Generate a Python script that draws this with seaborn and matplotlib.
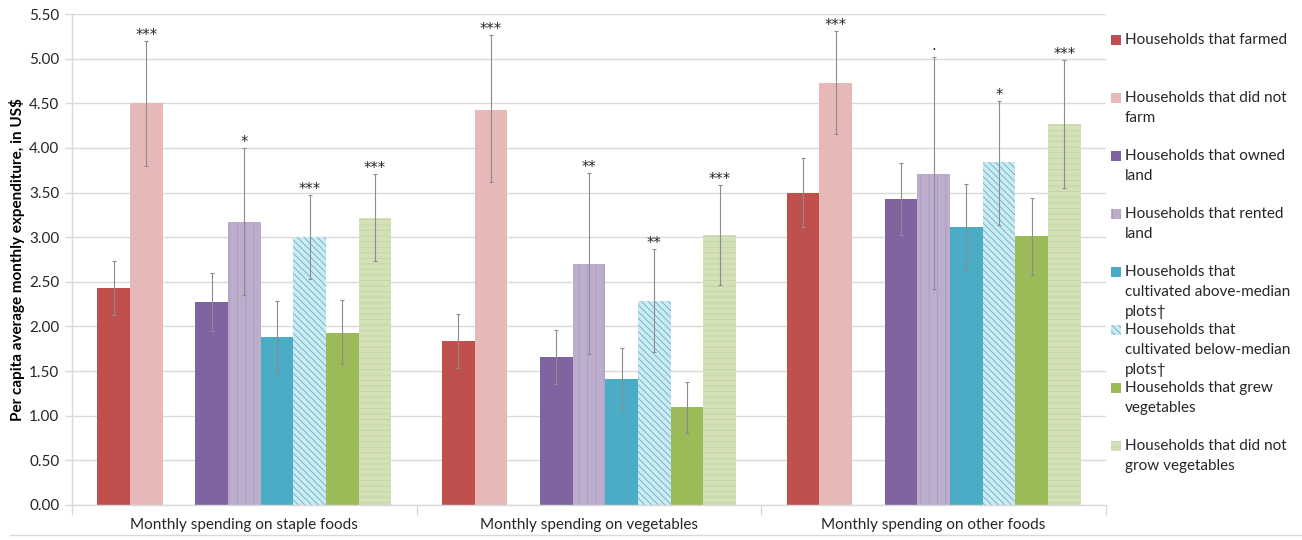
import numpy as np
import pandas as pd
import seaborn as sns
import matplotlib.pyplot as plt
from matplotlib.patches import Rectangle
from matplotlib.lines import Line2D

# ---------------- data ----------------
categories = ["Monthly spending on staple foods",
              "Monthly spending on vegetables",
              "Monthly spending on other foods"]

series = ["Households that farmed",
          "Households that did not farm",
          "Households that owned land",
          "Households that rented land",
          "Households that cultivated above-median plots†",
          "Households that cultivated below-median plots†",
          "Households that grew vegetables",
          "Households that did not grow vegetables"]

legend_lines = [["Households that farmed"],
                ["Households that did not", "farm"],
                ["Households that owned", "land"],
                ["Households that rented", "land"],
                ["Households that", "cultivated above-median", "plots†"],
                ["Households that", "cultivated below-median", "plots†"],
                ["Households that grew", "vegetables"],
                ["Households that did not", "grow vegetables"]]

farmed       = [2.43, 1.84, 3.50]
not_farmed   = [4.50, 4.43, 4.73]
owned        = [2.27, 1.66, 3.43]
rented       = [3.17, 2.70, 3.71]
above_median = [1.88, 1.41, 3.11]
below_median = [3.00, 2.29, 3.84]
grew_veg     = [1.93, 1.10, 3.01]
no_veg       = [3.22, 3.02, 4.27]

farmed_ci       = ([2.13, 1.54, 3.11], [2.73, 2.14, 3.89])
not_farmed_ci   = ([3.80, 3.62, 4.16], [5.20, 5.27, 5.31])
owned_ci        = ([1.95, 1.36, 3.03], [2.60, 1.96, 3.83])
rented_ci       = ([2.35, 1.69, 2.42], [4.00, 3.72, 5.02])
above_median_ci = ([1.47, 1.06, 2.62], [2.29, 1.76, 3.60])
below_median_ci = ([2.53, 1.71, 3.14], [3.47, 2.87, 4.53])
grew_veg_ci     = ([1.58, 0.81, 2.58], [2.30, 1.38, 3.44])
no_veg_ci       = ([2.73, 2.46, 3.55], [3.71, 3.59, 4.99])

sig_farm   = ["", "", ""]
sig_nofarm = ["***", "***", "***"]
sig_owned  = ["", "", ""]
sig_rented = ["*", "**", "."]
sig_above  = ["", "", ""]
sig_below  = ["***", "**", "*"]
sig_grew   = ["", "", ""]
sig_noveg  = ["***", "***", "***"]

yticks = [0, 0.5, 1, 1.5, 2, 2.5, 3, 3.5, 4, 4.5, 5, 5.5]

values = [farmed, not_farmed, owned, rented, above_median, below_median, grew_veg, no_veg]
cis = [farmed_ci, not_farmed_ci, owned_ci, rented_ci, above_median_ci,
       below_median_ci, grew_veg_ci, no_veg_ci]
sigs = [sig_farm, sig_nofarm, sig_owned, sig_rented, sig_above, sig_below, sig_grew, sig_noveg]

# ---------------- styles ----------------
face = ["#C0504D", "#E6B9B8", "#8064A2", "#BBADCB", "#4BACC6", "#CDEAF1", "#9BBB59", "#D3E0B8"]
hatch = [None, None, None, "||", None, "\\\\\\\\\\", None, "---"]
hatch_col = [None, None, None, "#AC9CBF", None, "#5DB4CC", None, "#C4D4A3"]

SPACER = " "
hue_order = series[:2] + [SPACER] + series[2:]

rows = []
for s, vals in zip(series, values):
    for c, v in zip(categories, vals):
        rows.append({"category": c, "series": s, "value": v})
df = pd.DataFrame(rows)

sns.set_theme(style="white")
plt.rcParams["font.family"] = ["Lato", "DejaVu Sans"]
plt.rcParams["hatch.linewidth"] = 0.6

W, H = 1302, 540
fig = plt.figure(figsize=(W / 100, H / 100), dpi=100)
ax = fig.add_axes([72 / W, 35 / H, (1106 - 72) / W, (505 - 14) / H])

palette = {s: c for s, c in zip(series, face)}
palette[SPACER] = "#FFFFFF"

group_width = 0.853
sns.barplot(data=df, x="category", y="value", hue="series", hue_order=hue_order,
            order=categories, palette=palette, errorbar=None, width=group_width,
            dodge=True, saturation=1, linewidth=0, legend=False, ax=ax)

slot = group_width / len(hue_order)
for p in ax.patches:
    if not isinstance(p, Rectangle) or p.get_height() == 0 or np.isnan(p.get_height()):
        continue
    xc = p.get_x() + p.get_width() / 2
    cat_i = int(round(xc))
    k = int(round((xc - cat_i + group_width / 2) / slot - 0.5))
    if k == 2:
        continue
    si = k if k < 2 else k - 1
    if hatch[si]:
        p.set_hatch(hatch[si])
        p.set_edgecolor(hatch_col[si])
        p.set_linewidth(0)
    lo = cis[si][0][cat_i]
    hi = cis[si][1][cat_i]
    v = values[si][cat_i]
    ax.errorbar(xc, v, yerr=[[v - lo], [hi - v]], fmt="none", ecolor="#8C8C8C",
                elinewidth=0.8, capsize=1.2, capthick=0.8, zorder=5)
    label = sigs[si][cat_i]
    if label:
        dy = 2.5 if label == "." else -1.5
        ax.annotate(label, (xc, hi), xytext=(0, dy), textcoords="offset points",
                    ha="center", va="bottom", fontsize=10.5, color="#262626",
                    family=["DejaVu Sans"])

# axes styling
ax.set_ylim(0, 5.5)
ax.set_xlim(-0.5, 2.5)
ax.set_yticks(yticks)
ax.set_yticklabels([f"{t:.2f}" for t in yticks], fontsize=11, color="#262626")
ax.yaxis.grid(True, color="#D9D9D9", linewidth=1)
ax.set_axisbelow(True)
for s in ["top", "right"]:
    ax.spines[s].set_visible(False)
for s in ["left", "bottom"]:
    ax.spines[s].set_color("#D9D9D9")
    ax.spines[s].set_linewidth(1)
ax.tick_params(axis="y", length=5, width=1, color="#D9D9D9", direction="out", pad=4, left=True)
ax.tick_params(axis="x", which="major", length=0, labelsize=11, labelcolor="#262626", pad=9)
ax.set_xticks([-0.5, 0.5, 1.5, 2.5], minor=True)
ax.tick_params(axis="x", which="minor", length=7, width=1, color="#D9D9D9", direction="out", bottom=True)
ax.set_xlabel("")
ax.set_ylabel("Per capita average monthly expenditure, in US$", fontsize=11,
              fontweight="bold", color="#000000", labelpad=3)

# legend (fixed slots like the original)
y0 = 40
step = 58
line_gap = 20
for i, lines in enumerate(legend_lines):
    yc = y0 + i * step
    rect = Rectangle((1111 / W, 1 - (yc + 5) / H), 10 / W, 10 / H, transform=fig.transFigure,
                     facecolor=face[i], edgecolor=hatch_col[i] if hatch[i] else "none",
                     hatch=hatch[i], linewidth=0)
    fig.add_artist(rect)
    for j, ln in enumerate(lines):
        fig.text(1125 / W, 1 - (yc + j * line_gap) / H, ln, fontsize=11,
                 va="center", ha="left", color="#262626")

# outer bottom border line
fig.add_artist(Line2D([10 / W, 1.0], [1 - 535 / H, 1 - 535 / H], transform=fig.transFigure,
                      color="#D9D9D9", linewidth=1))

fig.savefig("out.png", dpi=100)
